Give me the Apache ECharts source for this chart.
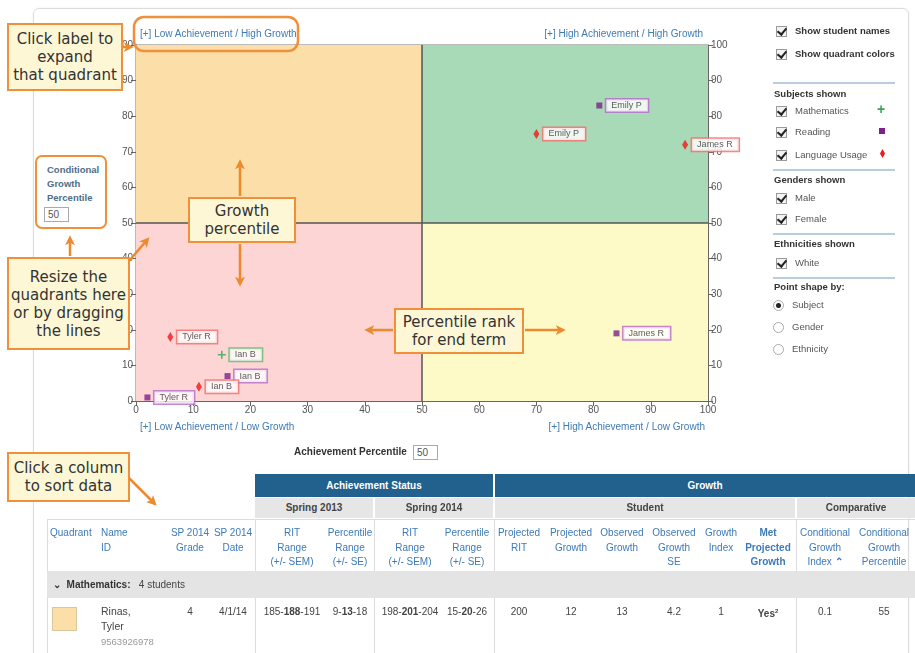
<!DOCTYPE html>
<html><head><meta charset="utf-8">
<script src="https://cdn.jsdelivr.net/npm/echarts@6/dist/echarts.min.js"></script>
<style>
body{margin:0;width:915px;height:653px;overflow:hidden;background:#fff;font-family:"Liberation Sans",Arial,sans-serif;position:relative}
.a{position:absolute;white-space:nowrap}
#card{left:33px;top:8px;width:874px;height:680px;border:1px solid #dcdcdc;border-radius:6px;box-shadow:0 0 3px rgba(0,0,0,0.06);z-index:0}
#chart{left:0;top:0;width:915px;height:653px;z-index:1}
.ov{z-index:3}
.callout{position:absolute;z-index:4;background:#fdf7d6;border:2px solid #f0903a;font-family:"DejaVu Sans",Verdana,sans-serif;color:#333;text-align:center;font-size:14px;line-height:17px;box-sizing:border-box;display:flex;align-items:center;justify-content:center}
.ql{font-size:10px;color:#3f7bb3;z-index:3}
.cb{display:inline-block;width:9px;height:9px;border:1px solid #9a9a9a;background:#f3f3f3;position:relative;vertical-align:middle;margin-right:8px}
.cb:after{content:"";position:absolute;left:2px;top:-1px;width:4px;height:7px;border:solid #222;border-width:0 2px 2px 0;transform:rotate(40deg)}
.rd{display:inline-block;width:9px;height:9px;border:1px solid #aaa;border-radius:50%;background:#fff;position:relative;vertical-align:middle;margin-right:8px}
.rd.on:after{content:"";position:absolute;left:2px;top:2px;width:5px;height:5px;border-radius:50%;background:#222}
.pi{font-size:9.5px;color:#555;z-index:3}
.pb{font-size:9.5px;color:#333;font-weight:bold;z-index:3}
.sep{height:2px;background:#b9cde0;z-index:3}
.th{font-size:10px;color:#3d7ab8;line-height:14.5px;text-align:center;z-index:3}
.td{font-size:10px;color:#444;text-align:center;z-index:3}
.inp{border:1px solid #aaa;background:#fff;font-size:10px;color:#555;padding:1px 3px;box-sizing:border-box;z-index:3}
</style></head>
<body>
<div id="card" class="a"></div>
<div id="chart" class="a"></div>

<script>
// ---- data ----
const xTicks = [0,10,20,30,40,50,60,70,80,90,100];
const quadrantSplitX = 50;
const quadrantSplitY = 50;
const mathNames = ['Ian B'];
const mathX = [15];
const mathY = [13];
const readNames = ['Tyler R','Ian B','Emily P','James R'];
const readX = [2,16,81,84];
const readY = [1,7,83,19];
const luNames = ['Tyler R','Ian B','Emily P','James R'];
const luX = [6,11,70,96];
const luY = [18,4,75,72];
const quadrantLabels = ['[+] Low Achievement / High Growth','[+] High Achievement / High Growth','[+] Low Achievement / Low Growth','[+] High Achievement / Low Growth'];

function pts(n,x,y){return n.map((nm,i)=>({name:nm,value:[x[i],y[i]]}));}
function lbl(border){return {show:true,position:'right',distance:4,formatter:'{b}',backgroundColor:'#fff',borderColor:border,borderWidth:1.5,padding:[2,6,1,5],fontSize:9,color:'#333',fontFamily:'Liberation Sans'};}

const chart = echarts.init(document.getElementById('chart'),null,{renderer:'canvas'});
const axStyle = {lineStyle:{color:'#666'}};
chart.setOption({
  animation:false,
  grid:{left:136,top:45,width:572,height:356,show:true,borderColor:'#777',borderWidth:1},
  xAxis:{type:'value',min:0,max:100,interval:10,axisLine:axStyle,axisTick:{show:true,length:5,lineStyle:{color:'#666'}},
    axisLabel:{fontSize:10,color:'#555',margin:4},splitLine:{show:true,lineStyle:{color:'rgba(0,0,0,0.04)'}}},
  yAxis:[
    {type:'value',min:0,max:100,interval:10,position:'left',axisLine:{show:true,lineStyle:{color:'#666'}},axisTick:{show:true,length:5,lineStyle:{color:'#666'}},
      axisLabel:{fontSize:10,color:'#555',margin:3},splitLine:{show:true,lineStyle:{color:'rgba(0,0,0,0.04)'}}},
    {type:'value',min:0,max:100,interval:10,position:'right',axisLine:{show:true,lineStyle:{color:'#666'}},axisTick:{show:true,length:5,lineStyle:{color:'#666'}},
      axisLabel:{fontSize:10,color:'#555',margin:3},splitLine:{show:false}}
  ],
  series:[
    {type:'scatter',name:'quadrants',data:[],silent:true,
      markArea:{silent:true,data:[
        [{coord:[0,quadrantSplitY],itemStyle:{color:'#fcdea8'}},{coord:[quadrantSplitX,100]}],
        [{coord:[quadrantSplitX,quadrantSplitY],itemStyle:{color:'#a8dab7'}},{coord:[100,100]}],
        [{coord:[0,0],itemStyle:{color:'#fdd5d4'}},{coord:[quadrantSplitX,quadrantSplitY]}],
        [{coord:[quadrantSplitX,0],itemStyle:{color:'#fefac7'}},{coord:[100,quadrantSplitY]}]
      ]},
      markLine:{silent:true,symbol:'none',label:{show:false},lineStyle:{color:'#555',width:1.5,type:'solid'},
        data:[{xAxis:quadrantSplitX},{yAxis:quadrantSplitY}]}
    },
    {type:'scatter',name:'Mathematics',data:pts(mathNames,mathX,mathY),symbol:'path://M4,0H6V4H10V6H6V10H4V6H0V4H4Z',symbolSize:8,
      itemStyle:{color:'#33a853'},label:lbl('#63b96a'),z:5},
    {type:'scatter',name:'Reading',data:pts(readNames,readX,readY),symbol:'rect',symbolSize:6,
      itemStyle:{color:'#7d1f8c'},label:lbl('#b56cc9'),z:5},
    {type:'scatter',name:'Language Usage',data:pts(luNames,luX,luY),symbol:'diamond',symbolSize:[6,10],
      itemStyle:{color:'#f01818'},label:lbl('#f26b6b'),z:5}
  ]
});

// ---- overlays ----
function put(html,cls,x,y,extra){const d=document.createElement('div');d.className='a '+cls;d.style.left=x+'px';d.style.top=y+'px';if(extra)d.style.cssText+=extra;d.innerHTML=html;document.body.appendChild(d);return d;}

// quadrant labels
put(quadrantLabels[0],'ql',140,28);
put(quadrantLabels[1],'ql',0,28,'width:703px;text-align:right;left:0');
put(quadrantLabels[2],'ql',140,421);
put(quadrantLabels[3],'ql',0,421,'width:705px;text-align:right;left:0');

// right panel
put('<span class="cb"></span>Show student names','pb',776,25);
put('<span class="cb"></span>Show quadrant colors','pb',776,48);
put('','sep',773,82,'width:122px');
put('Subjects shown','pb',774,88);
put('<span class="cb"></span>Mathematics','pi',776,105);
put('+','pi',877,101,'color:#33a853;font-size:14px;font-weight:bold');
put('<span class="cb"></span>Reading','pi',776,126);
put('','pi',879,128,'width:6px;height:6px;background:#7d1f8c');
put('<span class="cb"></span>Language Usage','pi',776,149);
put('','pi',880,149,'width:5px;height:9px;background:#f01818;clip-path:polygon(50% 0,100% 50%,50% 100%,0 50%)');
put('','sep',773,169,'width:122px');
put('Genders shown','pb',774,174);
put('<span class="cb"></span>Male','pi',776,192);
put('<span class="cb"></span>Female','pi',776,213);
put('','sep',773,233,'width:122px');
put('Ethnicities shown','pb',774,238);
put('<span class="cb"></span>White','pi',776,257);
put('','sep',773,277,'width:122px');
put('Point shape by:','pb',774,281);
put('<span class="rd on"></span>Subject','pi',773,299);
put('<span class="rd"></span>Gender','pi',773,321);
put('<span class="rd"></span>Ethnicity','pi',773,343);

// achievement percentile
put('Achievement Percentile','pb',294,446,'font-size:10px');
put('50','inp',413,445,'width:25px;height:15px');

// conditional growth box
put('','ov',35,155,'width:72px;height:74px;border:2.5px solid #f0903a;border-radius:7px;background:#fff;box-sizing:border-box');
put('Conditional<br>Growth<br>Percentile','ov',47,163,'font-size:9.5px;font-weight:bold;color:#4f6d88;line-height:14px;z-index:4');
put('50','inp',44,207,'width:25px;height:15px;z-index:4');

// table
const hdrBlue='#22608d';
put('Achievement Status','',255,474,'width:238px;height:23px;background:'+hdrBlue+';color:#fff;font-weight:bold;font-size:10px;text-align:center;line-height:23px;z-index:3');
put('Growth','',495,474,'width:420px;height:23px;background:'+hdrBlue+';color:#fff;font-weight:bold;font-size:10px;text-align:center;line-height:23px;z-index:3');
const g2=[['Spring 2013',255,118],['Spring 2014',375,118],['Student',495,300],['Comparative',797,118]];
g2.forEach(c=>put(c[0],'',c[1],498,'width:'+c[2]+'px;height:20px;background:#e6e6e6;color:#444;font-weight:bold;font-size:10px;text-align:center;line-height:20px;z-index:3'));
put('','',47,519,'width:868px;height:1px;background:#ddd;z-index:3');
put('','',47,519,'width:1px;height:140px;background:#ddd;z-index:3');
[255,374,494,796].forEach(x=>put('','',x,519,'width:1px;height:140px;background:#ddd;z-index:3'));
put('Quadrant','th',50,526,'text-align:left');
put('Name<br>ID','th',101,526,'text-align:left');
const colHdr=[['SP 2014<br>Grade',190],['SP 2014<br>Date',233],['RIT<br>Range<br>(+/- SEM)',292],['Percentile<br>Range<br>(+/- SE)',350],['RIT<br>Range<br>(+/- SEM)',410],['Percentile<br>Range<br>(+/- SE)',467],['Projected<br>RIT',519],['Projected<br>Growth',571],['Observed<br>Growth',622],['Observed<br>Growth<br>SE',674],['Growth<br>Index',721],['<b>Met<br>Projected<br>Growth</b>',768],['Conditional<br>Growth<br>Index <b>&#x2303;</b>',825],['Conditional<br>Growth<br>Percentile',884]];
colHdr.forEach(c=>put(c[0],'th',c[1]-40,526,'width:80px'));
put('<b style="color:#333">&#x2304;&nbsp; Mathematics:</b>&nbsp;&nbsp; 4 students','',47,571,'width:868px;height:27px;background:#e4e4e4;font-size:10px;color:#444;line-height:27px;padding-left:6px;box-sizing:border-box;z-index:3');
put('','',52,607,'width:25px;height:24px;background:#fcdea8;border:1px solid #d8c8a0;box-sizing:border-box;z-index:3');
put('Rinas,<br>Tyler<br><span style="color:#999;font-size:9.5px">9563926978</span>','td',101,604,'text-align:left;line-height:15px;font-size:10.5px');
const row=[['4',190],['4/1/14',233],['185-<b>188</b>-191',292],['9-<b>13</b>-18',350],['198-<b>201</b>-204',410],['15-<b>20</b>-26',467],['200',519],['12',571],['13',622],['4.2',674],['1',721],['<b>Yes<sup style="font-size:6px">2</sup></b>',768],['0.1',825],['55',884]];
row.forEach(c=>put(c[0],'td',c[1]-40,604,'width:80px;line-height:15px'));

// callouts
function callout(txt,x,y,w,h,fs){const d=document.createElement('div');d.className='callout';d.style.cssText+='left:'+x+'px;top:'+y+'px;width:'+w+'px;height:'+h+'px;font-size:'+fs+'px;line-height:'+(fs+3)+'px';d.innerHTML=txt;document.body.appendChild(d);}
callout('Click label to<br>expand<br>that quadrant',7,23,116,68,15);
callout('Resize the<br>quadrants here<br>or by dragging<br>the lines',7,257,123,93,15);
callout('Growth<br>percentile',188,197,108,46,15);
callout('Percentile rank<br>for end term',394,308,130,46,15);
callout('Click a column<br>to sort data',7,452,123,50,15);
</script>
<svg class="a" style="left:0;top:0;z-index:5;pointer-events:none" width="915" height="653">
<defs><marker id="ah" markerWidth="4" markerHeight="4" refX="2.5" refY="2" orient="auto"><path d="M0,0 L4,2 L0,4 L1,2 z" fill="#ee8a2e"/></marker></defs>
<g stroke="#ee8a2e" stroke-width="2.5" fill="none">
<rect x="134" y="17" width="164" height="34" rx="10" stroke="#f0903a"/>
<line x1="123" y1="47" x2="130" y2="47" marker-end="url(#ah)"/>
<line x1="70" y1="256" x2="70" y2="239" marker-end="url(#ah)"/>
<line x1="129" y1="261" x2="147" y2="240" marker-end="url(#ah)"/>
<line x1="240" y1="196" x2="240" y2="163" marker-end="url(#ah)"/>
<line x1="240" y1="244" x2="240" y2="283" marker-end="url(#ah)"/>
<line x1="393" y1="330" x2="368" y2="330" marker-end="url(#ah)"/>
<line x1="525" y1="330" x2="562" y2="330" marker-end="url(#ah)"/>
<line x1="129" y1="478" x2="154" y2="503" marker-end="url(#ah)"/>
</g></svg>
</body></html>
